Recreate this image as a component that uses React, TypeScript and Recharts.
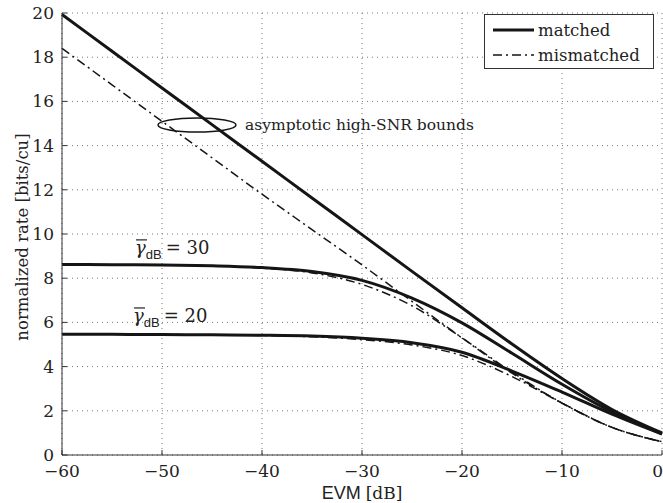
import React from "react";
import {
  CartesianGrid,
  Label,
  Legend,
  Line,
  LineChart,
  ReferenceDot,
  XAxis,
  YAxis,
} from "recharts";

const EVM = [-60, -55, -50, -45, -40, -35, -30, -25, -20, -15, -10, -5, 0];
const MATCHED_BOUND = [19.93, 18.27, 16.61, 14.95, 13.29, 11.63, 9.97, 8.31, 6.66, 5.02, 3.46, 2.06, 1.0];
const MISMATCHED_BOUND = [18.4, 16.75, 15.1, 13.45, 11.8, 10.2, 8.6, 6.95, 5.3, 3.7, 2.35, 1.25, 0.6];
const G30_MATCHED = [8.62, 8.61, 8.6, 8.56, 8.48, 8.3, 7.9, 7.1, 5.98, 4.6, 3.2, 1.95, 0.97];
const G30_MISMATCHED = [8.62, 8.61, 8.6, 8.56, 8.46, 8.24, 7.72, 6.75, 5.3, 3.75, 2.35, 1.25, 0.6];
const G20_MATCHED = [5.46, 5.46, 5.45, 5.44, 5.42, 5.38, 5.28, 5.08, 4.65, 3.8, 2.85, 1.85, 0.95];
const G20_MISMATCHED = [5.46, 5.46, 5.45, 5.44, 5.41, 5.35, 5.22, 4.98, 4.5, 3.55, 2.35, 1.25, 0.6];

const X_TICKS = [-60, -50, -40, -30, -20, -10, 0];
const Y_TICKS = [0, 2, 4, 6, 8, 10, 12, 14, 16, 18, 20];

const data = EVM.map((x, i) => ({
  evm: x,
  mb: MATCHED_BOUND[i],
  mmb: MISMATCHED_BOUND[i],
  g30: G30_MATCHED[i],
  g30m: G30_MISMATCHED[i],
  g20: G20_MATCHED[i],
  g20m: G20_MISMATCHED[i],
}));

const INK = "#151515";
const FRAME = "#333";
const SERIF = "'DejaVu Serif', serif";
const SANS = "'Liberation Sans', Arial, sans-serif";
const DASHDOT = "9 4 2 4";
const TICK_STYLE = { fontSize: 17, fill: "#222", style: { fontFamily: SERIF } };
const serifText = { fontFamily: SERIF };

const minus = (v: number) => String(v).replace("-", "\u2212");

function LegendBox() {
  return (
    <div
      style={{
        width: 170,
        height: 55,
        border: `1px solid ${FRAME}`,
        background: "#fff",
        boxSizing: "border-box",
      }}
    >
      <svg width={168} height={53} style={{ display: "block" }}>
        <line x1={8} x2={49} y1={15} y2={15} stroke={INK} strokeWidth={3} />
        <text x={53} y={15} dominantBaseline="central" fontSize={16.5} style={serifText} fill="#222">
          matched
        </text>
        <line x1={8} x2={49} y1={40} y2={40} stroke={INK} strokeWidth={1.5} strokeDasharray={DASHDOT} />
        <text x={53} y={40} dominantBaseline="central" fontSize={16.5} style={serifText} fill="#222">
          mismatched
        </text>
      </svg>
    </div>
  );
}

function GammaLabel({ cx, cy, value }: { cx?: number; cy?: number; value: string }) {
  if (cx == null || cy == null) return null;
  return (
    <g>
      <line x1={cx + 1} x2={cx + 12} y1={cy - 14} y2={cy - 14} stroke="#222" strokeWidth={1.2} />
      <text x={cx} y={cy} fontSize={18} fill="#222" style={serifText}>
        <tspan fontStyle="italic">{"\u03b3"}</tspan>
        <tspan style={{ fontFamily: SANS }} fontSize={13} dy={5}>dB</tspan>
        <tspan dy={-5} dx={4}>{"= " + value}</tspan>
      </text>
    </g>
  );
}

export default function App() {
  return (
    <div style={{ position: "absolute", left: 0, top: 0, width: 663, height: 503, background: "#fff" }}>
      <LineChart
        width={663}
        height={503}
        data={data}
        margin={{ top: 13, right: 1, bottom: 0, left: 0 }}
      >
        <CartesianGrid stroke="#777" strokeDasharray="1 4" />
        <XAxis
          dataKey="evm"
          type="number"
          domain={[-60, 0]}
          ticks={X_TICKS}
          tickFormatter={minus}
          height={48}
          tick={TICK_STYLE}
          tickSize={-5}
          tickMargin={15}
          stroke={FRAME}
        >
          <Label
            content={({ viewBox }: any) => (
              <text
                x={viewBox.x + viewBox.width / 2}
                y={viewBox.y + 38}
                textAnchor="middle"
                dominantBaseline="central"
                fontSize={17}
                fill="#222"
              >
                <tspan style={{ fontFamily: SANS }} fontSize={18}>EVM </tspan>
                <tspan style={serifText}>[dB]</tspan>
              </text>
            )}
          />
        </XAxis>
        <XAxis
          xAxisId="top"
          orientation="top"
          dataKey="evm"
          type="number"
          domain={[-60, 0]}
          ticks={X_TICKS}
          height={0}
          tick={false}
          tickSize={-5}
          stroke={FRAME}
        />
        <YAxis
          type="number"
          domain={[0, 20]}
          ticks={Y_TICKS}
          width={62}
          tick={TICK_STYLE}
          tickSize={-5}
          tickMargin={13}
          stroke={FRAME}
        >
          <Label
            content={({ viewBox }: any) => (
              <text
                x={22}
                y={viewBox.y + viewBox.height / 2 + 3}
                transform={`rotate(-90, 22, ${viewBox.y + viewBox.height / 2 + 3})`}
                textAnchor="middle"
                dominantBaseline="central"
                fontSize={16.5}
                style={serifText}
                fill="#222"
              >
                normalized rate [bits/cu]
              </text>
            )}
          />
        </YAxis>
        <YAxis
          yAxisId="right"
          orientation="right"
          type="number"
          domain={[0, 20]}
          ticks={Y_TICKS}
          width={0}
          tick={false}
          tickSize={-5}
          stroke={FRAME}
        />
        <Legend
          layout="horizontal"
          verticalAlign="middle"
          align="center"
          content={() => <LegendBox />}
          wrapperStyle={{ position: "absolute", left: 484, top: 14, width: 170, height: 55 }}
        />
        <Line type="monotone" dataKey="mb" name="matched" stroke={INK} strokeWidth={3} dot={false} isAnimationActive={false} />
        <Line type="monotone" dataKey="mmb" name="mismatched" stroke={INK} strokeWidth={1.5} strokeDasharray={DASHDOT} dot={false} isAnimationActive={false} />
        <Line type="monotone" dataKey="g30" stroke={INK} strokeWidth={3} dot={false} legendType="none" isAnimationActive={false} />
        <Line type="monotone" dataKey="g30m" stroke={INK} strokeWidth={1.5} strokeDasharray={DASHDOT} dot={false} legendType="none" isAnimationActive={false} />
        <Line type="monotone" dataKey="g20" stroke={INK} strokeWidth={3} dot={false} legendType="none" isAnimationActive={false} />
        <Line type="monotone" dataKey="g20m" stroke={INK} strokeWidth={1.5} strokeDasharray={DASHDOT} dot={false} legendType="none" isAnimationActive={false} />
        <ReferenceDot
          x={-46.5}
          y={14.93}
          r={0}
          shape={(p: any) => (
            <ellipse cx={p.cx} cy={p.cy} rx={39} ry={7} fill="none" stroke={INK} strokeWidth={1.5} />
          )}
        />
        <ReferenceDot
          x={-41.7}
          y={14.93}
          r={0}
          shape={(p: any) => (
            <text x={p.cx} y={p.cy} dominantBaseline="central" fontSize={15.5} style={serifText} fill="#222">
              asymptotic high-SNR bounds
            </text>
          )}
        />
        <ReferenceDot x={-52.7} y={9.1} r={0} shape={(p: any) => <GammaLabel cx={p.cx} cy={p.cy} value="30" />} />
        <ReferenceDot x={-52.9} y={6.02} r={0} shape={(p: any) => <GammaLabel cx={p.cx} cy={p.cy} value="20" />} />
      </LineChart>
    </div>
  );
}
